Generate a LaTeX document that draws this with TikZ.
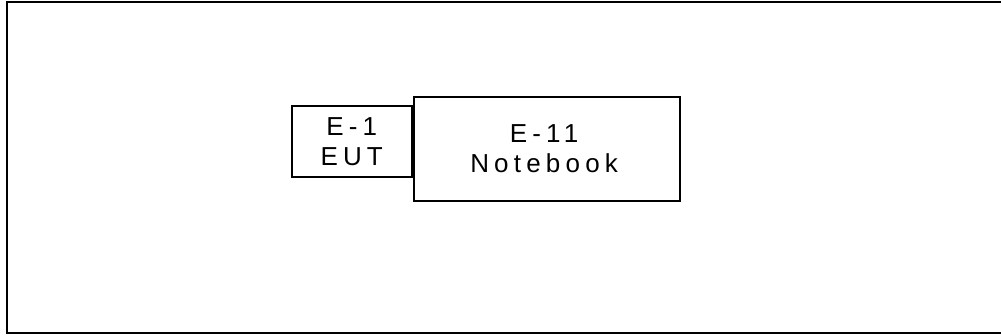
\documentclass[tikz,border=0pt]{standalone}
\usepackage{fontspec}
\setmainfont{Liberation Sans}
\newfontfamily\lbl[LetterSpace=20]{Liberation Sans}
\newcommand\tk{\kern5pt}
\begin{document}
\begin{tikzpicture}[x=1pt,y=-1pt,
  box/.style={draw=black,line width=1.8pt,inner sep=0pt,align=center,
    font=\lbl\fontsize{26}{30}\selectfont}]
\useasboundingbox (0,0) rectangle (1001,336);
\draw[line width=2pt] (1010,2) -- (7,2) -- (7,333) -- (1010,333);
\node[box,minimum width=120pt,minimum height=71pt] (eut) at (351.7,141.5) {E-1\\EUT};
\node[box,minimum width=266pt,minimum height=104pt,anchor=west] (nb) at (412.7,148.7) {E-11\tk\\Notebook\tk};
\end{tikzpicture}
\end{document}
